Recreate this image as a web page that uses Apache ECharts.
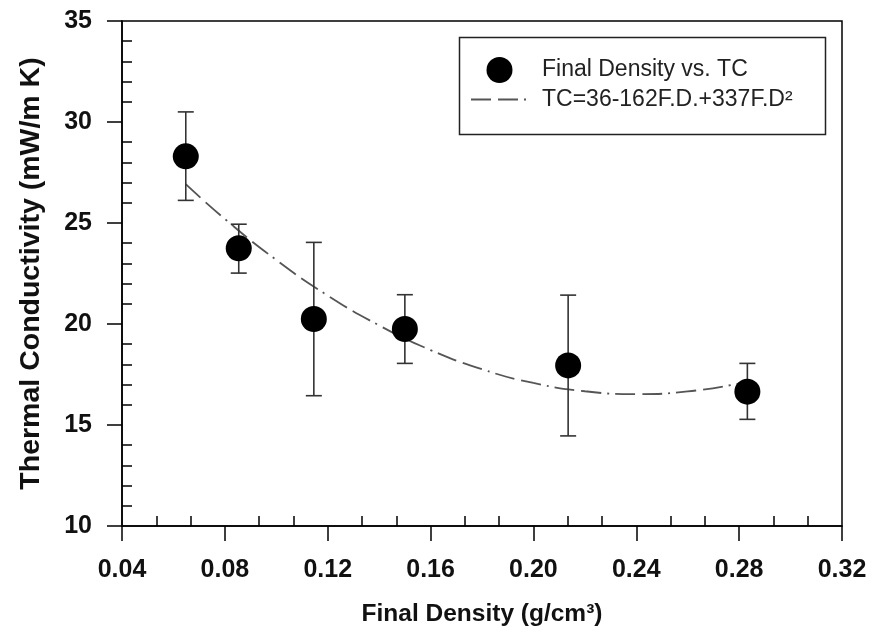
<!DOCTYPE html>
<html>
<head>
<meta charset="utf-8">
<script src="https://cdn.jsdelivr.net/npm/echarts@6/dist/echarts.min.js"></script>
<style>html,body{margin:0;padding:0;background:#fff}#c{width:874px;height:642px}</style>
</head>
<body>
<div id="c"></div>
<script>
const densities = [0.0648, 0.0854, 0.1146, 0.150, 0.2135, 0.2832];
const tcMeans   = [28.3, 23.75, 20.25, 19.75, 17.95, 16.65];
const tcLow     = [26.12, 22.52, 16.45, 18.05, 14.46, 15.28];
const tcHigh    = [30.5, 24.94, 24.04, 21.45, 21.43, 18.05];

// Fitted curve
const fitX = [0.0648, 0.08, 0.10, 0.12, 0.14, 0.16, 0.18, 0.20, 0.22, 0.24, 0.26, 0.2832];
const fitY = [26.92, 25.20, 23.17, 21.41, 19.93, 18.71, 17.76, 17.08, 16.67, 16.53, 16.66, 17.14];

const xTicks = [0.04, 0.08, 0.12, 0.16, 0.20, 0.24, 0.28, 0.32];
const yTicks = [10, 15, 20, 25, 30, 35];

const seriesName1 = 'Final Density vs. TC';
const seriesName2 = 'TC=36-162F.D.+337F.D²';
const xTitle = 'Final Density (g/cm³)';
const yTitle = 'Thermal Conductivity (mW/m K)';

const FONT = '"Liberation Sans", Arial, Helvetica, sans-serif';

const chart = echarts.init(document.getElementById('c'), null, {renderer: 'canvas'});

const scatterData = densities.map((d, i) => [d, tcMeans[i]]);
const errData = densities.map((d, i) => [d, tcLow[i], tcHigh[i]]);
const fitData = fitX.map((d, i) => [d, fitY[i]]);

const axisLineStyle = {color: '#000', width: 1.5};

chart.setOption({
  animation: false,
  backgroundColor: '#fff',
  grid: {left: 122, right: 32, top: 21, bottom: 116, show: true, borderColor: '#000', borderWidth: 1.5, backgroundColor: 'transparent'},
  graphic: [
    {type: 'rect', left: 457, top: 35, shape: {width: 366, height: 97},
     style: {fill: 'none', stroke: '#222', lineWidth: 1.5}, z: 10, silent: true}
  ],
  legend: {
    left: 470, top: 57, orient: 'vertical',
    padding: 0,
    itemWidth: 57, itemHeight: 26, itemGap: 5,
    textStyle: {fontFamily: FONT, fontSize: 23, color: '#222', padding: [0, 0, 0, 9]},
    data: [
      {name: seriesName1, icon: 'circle', itemStyle: {color: '#000', opacity: 1}},
      {name: seriesName2, itemStyle: {opacity: 0}}
    ]
  },
  xAxis: [
    {
      type: 'value', min: 0.04, max: 0.32, interval: 0.04, position: 'bottom',
      axisLine: {show: true, onZero: false, lineStyle: axisLineStyle},
      axisTick: {show: true, inside: false, length: 15, lineStyle: axisLineStyle},
      splitLine: {show: false},
      axisLabel: {
        margin: 32, fontFamily: FONT, fontSize: 25, fontWeight: 'bold', color: '#111',
        formatter: v => { const t = xTicks.find(x => Math.abs(x - v) < 1e-9); return t !== undefined ? t.toFixed(2) : ''; }
      },
      name: xTitle, nameLocation: 'middle', nameGap: 76,
      nameTextStyle: {fontFamily: FONT, fontSize: 24.5, fontWeight: 'bold', color: '#111'}
    },
    {
      type: 'value', min: 0.04, max: 0.32, interval: 0.04, position: 'bottom',
      axisLine: {show: false, onZero: false},
      axisTick: {show: false, inside: true},
      minorTick: {show: true, splitNumber: 3, length: 10, lineStyle: axisLineStyle},
      splitLine: {show: false}, axisLabel: {show: false}
    }
  ],
  yAxis: [
    {
      type: 'value', min: 10, max: 35, interval: 5, position: 'left',
      axisLine: {show: true, onZero: false, lineStyle: axisLineStyle},
      axisTick: {show: true, inside: false, length: 15, lineStyle: axisLineStyle},
      splitLine: {show: false},
      axisLabel: {
        margin: 30, fontFamily: FONT, fontSize: 25, fontWeight: 'bold', color: '#111',
        formatter: v => yTicks.indexOf(v) >= 0 ? String(v) : ''
      },
      name: yTitle, nameLocation: 'middle', nameGap: 76, nameRotate: 90,
      nameTextStyle: {fontFamily: FONT, fontSize: 28.5, fontWeight: 'bold', color: '#111'}
    },
    {
      type: 'value', min: 10, max: 35, interval: 5, position: 'left',
      axisLine: {show: false, onZero: false},
      axisTick: {show: false, inside: true},
      minorTick: {show: true, splitNumber: 5, length: 10, lineStyle: axisLineStyle},
      splitLine: {show: false}, axisLabel: {show: false}
    }
  ],
  series: [
    {
      name: seriesName2, type: 'line', data: fitData, smooth: true,
      xAxisIndex: 0, yAxisIndex: 0,
      symbol: 'none', showSymbol: false,
      lineStyle: {color: '#555', width: 1.8, type: [20, 7, 20, 6, 2, 6]},
      itemStyle: {color: '#555'},
      z: 2
    },
    {
      name: 'err', type: 'custom', xAxisIndex: 0, yAxisIndex: 0, data: errData,
      renderItem: (params, api) => {
        const x = api.value(0);
        const lo = api.coord([x, api.value(1)]);
        const hi = api.coord([x, api.value(2)]);
        const cap = 8;
        const st = {stroke: '#333', lineWidth: 1.6};
        return {
          type: 'group', children: [
            {type: 'line', shape: {x1: lo[0], y1: lo[1], x2: hi[0], y2: hi[1]}, style: st},
            {type: 'line', shape: {x1: lo[0] - cap, y1: lo[1], x2: lo[0] + cap, y2: lo[1]}, style: st},
            {type: 'line', shape: {x1: hi[0] - cap, y1: hi[1], x2: hi[0] + cap, y2: hi[1]}, style: st}
          ]
        };
      },
      z: 3
    },
    {
      name: seriesName1, type: 'scatter', data: scatterData,
      xAxisIndex: 0, yAxisIndex: 0,
      symbol: 'circle', symbolSize: 26,
      itemStyle: {color: '#000', opacity: 1},
      z: 4
    }
  ]
});
</script>
</body>
</html>
